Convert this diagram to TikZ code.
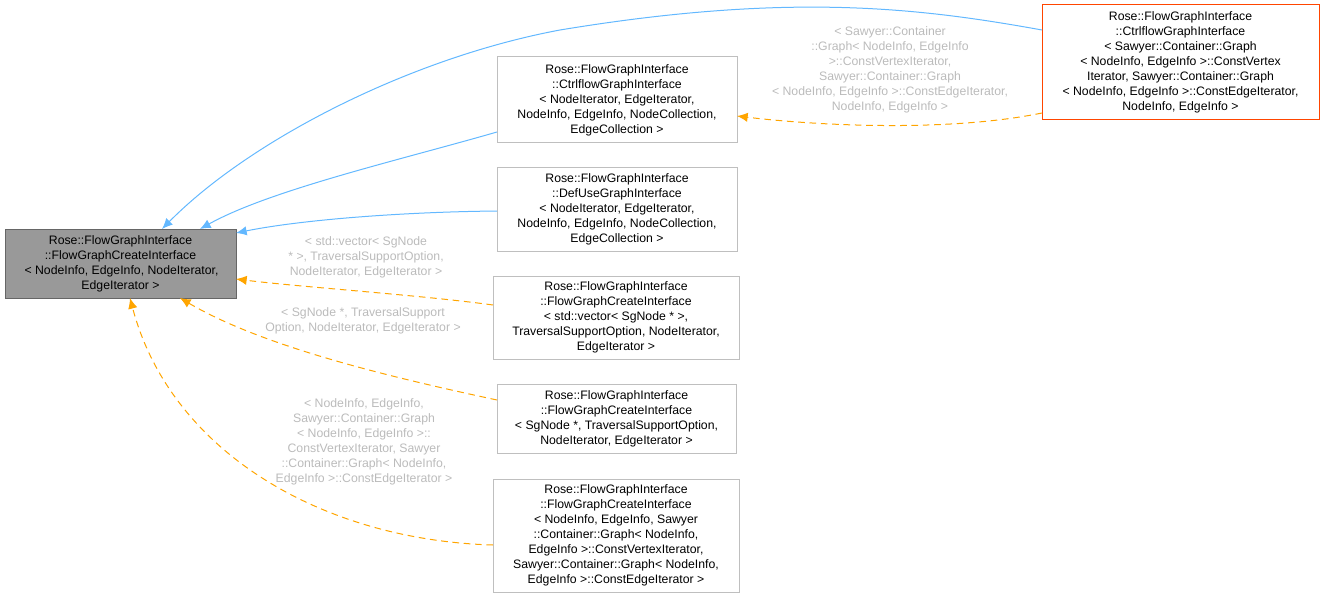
\documentclass[tikz,border=0pt]{standalone}
\usepackage{fontspec}
\setmainfont{Liberation Sans}
\usetikzlibrary{arrows.meta}
\definecolor{blu}{HTML}{63B8FF}
\definecolor{org}{HTML}{FFA500}
\definecolor{lbl}{HTML}{BBBBBB}
\definecolor{bord}{HTML}{BFBFBF}
\definecolor{hilite}{HTML}{FF4500}
\definecolor{basefill}{HTML}{999999}
\definecolor{basedraw}{HTML}{666666}
\begin{document}
\begin{tikzpicture}[x=0.75pt,y=-0.75pt,
 box/.style={draw=bord,line width=0.75pt,fill=white,align=center,inner sep=0pt,font=\fontsize{9.2}{11.25}\selectfont},
 lab/.style={align=center,text=lbl,font=\fontsize{9.2}{11.25}\selectfont,inner sep=0pt},
 inh/.style={draw=blu,line width=0.75pt,-{Latex[length=8pt,width=7pt]}},
 tmp/.style={draw=org,line width=0.75pt,dashed,dash pattern=on 5pt off 3.5pt,-{Latex[length=8pt,width=7pt]}}]
\useasboundingbox (0,0) rectangle (1324,599);
\node[box,fill=basefill,draw=basedraw,minimum width=231*0.75pt,minimum height=69*0.75pt] (base) at (120.5,263.5) {Rose::FlowGraphInterface\\::FlowGraphCreateInterface\\\,< NodeInfo, EdgeInfo, NodeIterator,\\EdgeIterator >};
\node[box,minimum width=240*0.75pt,minimum height=86*0.75pt] (n1) at (617,100) {Rose::FlowGraphInterface\\::CtrlflowGraphInterface\\< NodeIterator, EdgeIterator,\\NodeInfo, EdgeInfo, NodeCollection,\\EdgeCollection >};
\node[box,minimum width=240*0.75pt,minimum height=83*0.75pt] (n2) at (617,209.5) {Rose::FlowGraphInterface\\::DefUseGraphInterface\\< NodeIterator, EdgeIterator,\\NodeInfo, EdgeInfo, NodeCollection,\\EdgeCollection >};
\node[box,minimum width=246*0.75pt,minimum height=83*0.75pt] (n3) at (616,317.5) {Rose::FlowGraphInterface\\::FlowGraphCreateInterface\\< std::vector< SgNode * >,\\TraversalSupportOption, NodeIterator,\\EdgeIterator >};
\node[box,minimum width=239*0.75pt,minimum height=69*0.75pt] (n4) at (616.5,418.5) {Rose::FlowGraphInterface\\::FlowGraphCreateInterface\\< SgNode *, TraversalSupportOption,\\NodeIterator, EdgeIterator >};
\node[box,minimum width=246*0.75pt,minimum height=113*0.75pt] (n5) at (616,535.5) {Rose::FlowGraphInterface\\::FlowGraphCreateInterface\\< NodeInfo, EdgeInfo, Sawyer\\::Container::Graph< NodeInfo,\\EdgeInfo >::ConstVertexIterator,\\Sawyer::Container::Graph< NodeInfo,\\EdgeInfo >::ConstEdgeIterator >};
\node[box,draw=hilite,minimum width=277*0.75pt,minimum height=115*0.75pt] (r) at (1180.5,62.5) {Rose::FlowGraphInterface\\::CtrlflowGraphInterface\\< Sawyer::Container::Graph\\< NodeInfo, EdgeInfo >::ConstVertex\\Iterator, Sawyer::Container::Graph\\< NodeInfo, EdgeInfo >::ConstEdgeIterator,\\NodeInfo, EdgeInfo >};
\coordinate (ra) at (1042,30);
\coordinate (ba) at (162,229);
\coordinate (n1a) at (497,132);
\coordinate (b1) at (200,229);
\coordinate (n2a) at (497,211);
\coordinate (b2) at (236,233);
\coordinate (n3a) at (493,305);
\coordinate (b3) at (236,279);
\coordinate (n4a) at (497,400);
\coordinate (b4) at (180,298);
\coordinate (n5a) at (493,545);
\coordinate (b5) at (130,298);
\coordinate (rb) at (1042,113);
\coordinate (n1b) at (737,116);
\draw[inh] (ra) .. controls (920,8) and (790,-8) .. (560,30) .. controls (410,58) and (250,140) .. (ba);
\draw[inh] (n1a) .. controls (400,160) and (270,190) .. (b1);
\draw[inh] (n2a) .. controls (400,212) and (300,220) .. (b2);
\draw[tmp] (n3a) .. controls (420,295) and (300,287) .. (b3);
\draw[tmp] (n4a) .. controls (380,375) and (260,345) .. (b4);
\draw[tmp] (n5a) .. controls (320,540) and (170,450) .. (b5);
\draw[tmp] (rb) .. controls (950,132) and (820,126) .. (n1b);
\node[lab] (l0) at (890,70) {< Sawyer::Container\\::Graph< NodeInfo, EdgeInfo\\>::ConstVertexIterator,\\Sawyer::Container::Graph\\< NodeInfo, EdgeInfo >::ConstEdgeIterator,\\NodeInfo, EdgeInfo >};
\node[lab] (l3) at (366,257) {< std::vector< SgNode\\* >, TraversalSupportOption,\\NodeIterator, EdgeIterator >};
\node[lab] (l4) at (363,321) {< SgNode *, TraversalSupport\\Option, NodeIterator, EdgeIterator >};
\node[lab] (l5) at (364,442) {< NodeInfo, EdgeInfo,\\Sawyer::Container::Graph\\< NodeInfo, EdgeInfo >::\\ConstVertexIterator, Sawyer\\::Container::Graph< NodeInfo,\\EdgeInfo >::ConstEdgeIterator >};
\end{tikzpicture}
\end{document}
